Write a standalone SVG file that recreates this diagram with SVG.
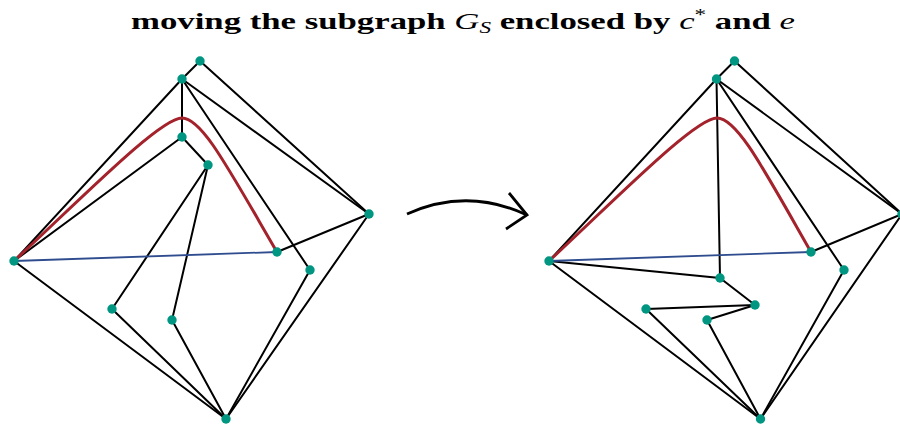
<svg xmlns="http://www.w3.org/2000/svg" width="900" height="424" viewBox="0 0 900 424">
<defs>
<style>
.e{stroke:#000;stroke-width:2;fill:none;stroke-linecap:round}
.c{stroke:#A3222B;stroke-width:3;fill:none;stroke-linecap:round}
.b{stroke:#2E4C8E;stroke-width:1.8;fill:none}
.n{fill:#009682}
.t{font-family:"Liberation Serif","DejaVu Serif",serif;font-size:24px;font-weight:bold;fill:#000}
.m{font-style:italic;font-weight:normal}
</style>
</defs>
<rect width="900" height="424" fill="#fff"/>
<text class="t" x="131" y="29" textLength="664" lengthAdjust="spacingAndGlyphs">moving the subgraph <tspan class="m">G</tspan><tspan class="m" font-size="16" dy="4">S</tspan><tspan dy="-4"> enclosed by </tspan><tspan class="m">c</tspan><tspan font-weight="normal" font-size="16" dy="-9">*</tspan><tspan dy="9"> and </tspan><tspan class="m">e</tspan></text>

<g id="connectors">
<g id="left-edges">
<line class="e" x1="200" y1="61" x2="182" y2="79"/>
<line class="e" x1="200" y1="61" x2="369" y2="214"/>
<line class="e" x1="182" y1="79" x2="14" y2="261"/>
<line class="e" x1="182" y1="79" x2="182" y2="137"/>
<line class="e" x1="182" y1="79" x2="369" y2="214"/>
<line class="e" x1="182" y1="79" x2="310" y2="270"/>
<line class="e" x1="182" y1="137" x2="14" y2="261"/>
<line class="e" x1="182" y1="137" x2="208" y2="165"/>
<line class="e" x1="208" y1="165" x2="112" y2="309"/>
<line class="e" x1="208" y1="165" x2="172" y2="320"/>
<line class="e" x1="277" y1="252" x2="369" y2="214"/>
<line class="e" x1="369" y1="214" x2="226" y2="419"/>
<line class="e" x1="310" y1="270" x2="226" y2="419"/>
<line class="e" x1="14" y1="261" x2="226" y2="419"/>
<line class="e" x1="112" y1="309" x2="226" y2="419"/>
<line class="e" x1="172" y1="320" x2="226" y2="419"/>
<line class="b" x1="14" y1="261" x2="277" y2="252"/>
<path class="c" d="M14 261 C80 200 160 118 182 118 C202 118 228 168 277 252"/>
</g>
<g id="arrow" stroke="#000" stroke-width="2.8" fill="none" stroke-linecap="butt">
<path d="M407 214 Q467 187 527 215"/>
<path d="M509 193 L527 215 L506 229"/>
</g>
<g id="right-edges">
<line class="e" x1="734.5" y1="61" x2="716.5" y2="79"/>
<line class="e" x1="734.5" y1="61" x2="902" y2="214"/>
<line class="e" x1="716.5" y1="79" x2="549" y2="261"/>
<line class="e" x1="716.5" y1="79" x2="720" y2="278"/>
<line class="e" x1="716.5" y1="79" x2="902" y2="214"/>
<line class="e" x1="716.5" y1="79" x2="844" y2="270"/>
<line class="e" x1="720" y1="278" x2="549" y2="261"/>
<line class="e" x1="720" y1="278" x2="755" y2="305"/>
<line class="e" x1="755" y1="305" x2="646" y2="309"/>
<line class="e" x1="755" y1="305" x2="707" y2="320"/>
<line class="e" x1="811" y1="252" x2="902" y2="214"/>
<line class="e" x1="902" y1="214" x2="760.5" y2="419"/>
<line class="e" x1="844" y1="270" x2="760.5" y2="419"/>
<line class="e" x1="549" y1="261" x2="760.5" y2="419"/>
<line class="e" x1="646" y1="309" x2="760.5" y2="419"/>
<line class="e" x1="707" y1="320" x2="760.5" y2="419"/>
<line class="b" x1="549" y1="261" x2="811" y2="252"/>
<path class="c" d="M549 261 C615 200 695 118 717 118 C737 118 763 168 811 252"/>
</g>
</g>

<g id="left-nodes">
<g id="lA"><circle class="n" cx="200" cy="61" r="4.7"/></g>
<g id="lB"><circle class="n" cx="182" cy="79" r="4.7"/></g>
<g id="lC"><circle class="n" cx="182" cy="137" r="4.7"/></g>
<g id="lD"><circle class="n" cx="208" cy="165" r="4.7"/></g>
<g id="lE"><circle class="n" cx="369" cy="214" r="4.7"/></g>
<g id="lL"><circle class="n" cx="14" cy="261" r="4.7"/></g>
<g id="lM"><circle class="n" cx="277" cy="252" r="4.7"/></g>
<g id="lN"><circle class="n" cx="310" cy="270" r="4.7"/></g>
<g id="lP"><circle class="n" cx="112" cy="309" r="4.7"/></g>
<g id="lQ"><circle class="n" cx="172" cy="320" r="4.7"/></g>
<g id="lR"><circle class="n" cx="226" cy="419" r="4.7"/></g>
</g>
<g id="right-nodes">
<g id="rA"><circle class="n" cx="734.5" cy="61" r="4.7"/></g>
<g id="rB"><circle class="n" cx="716.5" cy="79" r="4.7"/></g>
<g id="rC"><circle class="n" cx="720" cy="278" r="4.7"/></g>
<g id="rD"><circle class="n" cx="755" cy="305" r="4.7"/></g>
<g id="rE"><circle class="n" cx="902" cy="214" r="4.7"/></g>
<g id="rL"><circle class="n" cx="549" cy="261" r="4.7"/></g>
<g id="rM"><circle class="n" cx="811" cy="252" r="4.7"/></g>
<g id="rN"><circle class="n" cx="844" cy="270" r="4.7"/></g>
<g id="rP"><circle class="n" cx="646" cy="309" r="4.7"/></g>
<g id="rQ"><circle class="n" cx="707" cy="320" r="4.7"/></g>
<g id="rR"><circle class="n" cx="760.5" cy="419" r="4.7"/></g>
</g>
</svg>
